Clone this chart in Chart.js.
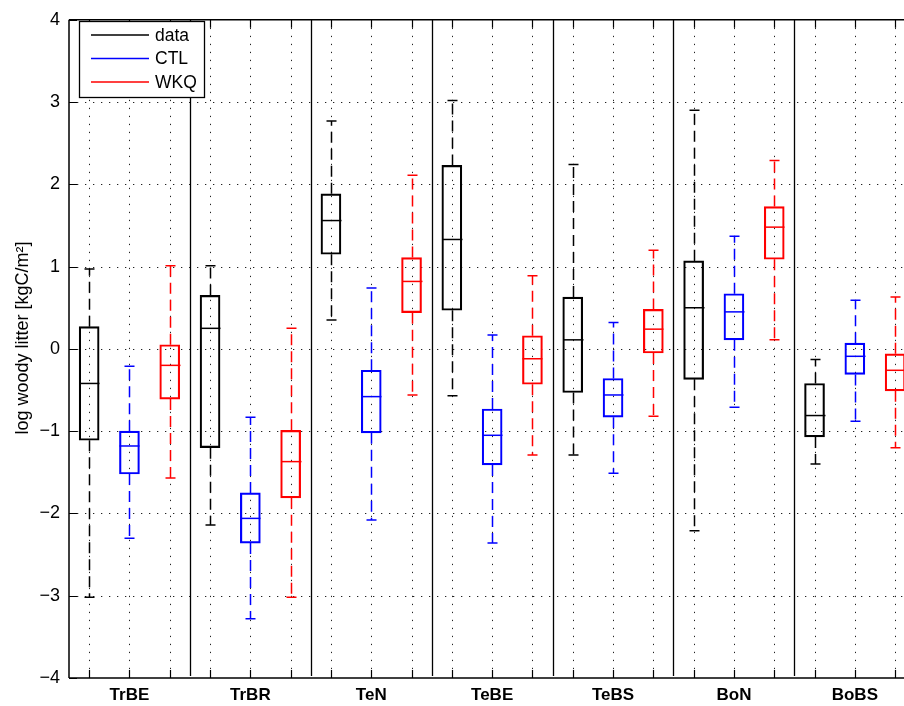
<!DOCTYPE html>
<html>
<head>
<meta charset="utf-8">
<script src="https://cdn.jsdelivr.net/npm/chart.js@4.4.1/dist/chart.umd.min.js"></script>
<style>
  html, body { margin: 0; padding: 0; background: #fff; }
  #wrap { width: 904px; height: 706px; }
</style>
</head>
<body>
<div id="wrap"><canvas id="c" width="904" height="706"></canvas></div>
<script>
// biomes (groups) and the three series in each group
const groups = ['TrBE', 'TrBR', 'TeN', 'TeBE', 'TeBS', 'BoN', 'BoBS'];
const seriesNames = ['data', 'CTL', 'WKQ'];
const seriesColors = ['#000000', '#0000ff', '#ff0000'];
const yTicks = [-4, -3, -2, -1, 0, 1, 2, 3, 4];

// box statistics (log kgC/m2)
const dataLow  = [-3.02, -2.14, 0.35, -0.57, -1.29, -2.21, -1.40];
const dataQ1   = [-1.11, -1.20, 1.15, 0.47, -0.53, -0.37, -1.07];
const dataMed  = [-0.42, 0.25, 1.56, 1.33, 0.11, 0.50, -0.81];
const dataQ3   = [0.27, 0.65, 1.885, 2.23, 0.63, 1.07, -0.42];
const dataHigh = [0.97, 1.01, 2.77, 3.02, 2.24, 2.90, -0.13];

const ctlLow  = [-2.30, -3.28, -2.08, -2.36, -1.51, -0.71, -0.88];
const ctlQ1   = [-1.52, -2.36, -1.02, -1.41, -0.83, 0.11, -0.31];
const ctlMed  = [-1.18, -2.06, -0.58, -1.05, -0.56, 0.45, -0.09];
const ctlQ3   = [-1.00, -1.75, -0.26, -0.73, -0.36, 0.67, 0.07];
const ctlHigh = [-0.21, -0.83, 0.74, 0.17, 0.32, 1.37, 0.59];

const wkqLow  = [-1.57, -3.02, -0.56, -1.29, -0.82, 0.11, -1.20];
const wkqQ1   = [-0.61, -1.81, 0.44, -0.43, -0.05, 1.09, -0.51];
const wkqMed  = [-0.20, -1.37, 0.82, -0.12, 0.24, 1.48, -0.26];
const wkqQ3   = [0.05, -0.99, 1.11, 0.16, 0.48, 1.73, -0.06];
const wkqHigh = [1.01, 0.25, 2.11, 0.89, 1.20, 2.29, 0.63];

const stats = [
  { low: dataLow, q1: dataQ1, med: dataMed, q3: dataQ3, high: dataHigh },
  { low: ctlLow, q1: ctlQ1, med: ctlMed, q3: ctlQ3, high: ctlHigh },
  { low: wkqLow, q1: wkqQ1, med: wkqMed, q3: wkqQ3, high: wkqHigh }
];

const nSeries = seriesNames.length;
const posOf = (g, s) => g * nSeries + s + 1;   // x position of a box
const xPositions = [];
for (let i = 1; i <= groups.length * nSeries; i++) xPositions.push(i);

const FONT = '"Liberation Sans", Arial, Helvetica, sans-serif';
const BOX_W = 20;     // px
const CAP_W = 10;     // px

// boxes = floating bars q1..q3
const datasets = seriesNames.map((name, s) => ({
  label: name,
  data: groups.map((g, i) => ({ x: posOf(i, s), y: [stats[s].q1[i], stats[s].q3[i]] })),
  backgroundColor: 'rgba(0,0,0,0)',
  borderColor: seriesColors[s],
  borderWidth: 1.5,
  borderSkipped: false,
  barThickness: BOX_W,
  grouped: false
}));

// grid, separators, whiskers, medians, axes frame, legend, y title
const boxPlotPlugin = {
  id: 'boxPlot',
  beforeDatasetsDraw(chart) {
    const { ctx, chartArea: a, scales: { x, y } } = chart;
    ctx.save();
    ctx.strokeStyle = '#222';
    ctx.lineWidth = 1;
    ctx.setLineDash([1.3, 6.7]);
    xPositions.forEach(v => {
      const px = Math.round(x.getPixelForValue(v)) + 0.5;
      ctx.beginPath(); ctx.moveTo(px, a.top); ctx.lineTo(px, a.bottom); ctx.stroke();
    });
    yTicks.slice(1, -1).forEach(v => {
      const py = Math.round(y.getPixelForValue(v)) + 0.5;
      ctx.beginPath(); ctx.moveTo(a.left, py); ctx.lineTo(a.right, py); ctx.stroke();
    });
    // group separators
    ctx.setLineDash([]);
    ctx.strokeStyle = '#000';
    ctx.lineWidth = 1.3;
    for (let g = 1; g < groups.length; g++) {
      const px = Math.round(x.getPixelForValue(g * nSeries + 0.5)) + 0.5;
      ctx.beginPath(); ctx.moveTo(px, a.top); ctx.lineTo(px, a.bottom - 2); ctx.stroke();
    }
    ctx.restore();
  },
  afterDatasetsDraw(chart) {
    const { ctx, chartArea: a, scales: { x, y } } = chart;
    ctx.save();
    stats.forEach((st, s) => {
      ctx.strokeStyle = seriesColors[s];
      groups.forEach((g, i) => {
        const cx = Math.round(x.getPixelForValue(posOf(i, s))) + 0.5;
        const pLow = y.getPixelForValue(st.low[i]);
        const pQ1 = y.getPixelForValue(st.q1[i]);
        const pMed = y.getPixelForValue(st.med[i]);
        const pQ3 = y.getPixelForValue(st.q3[i]);
        const pHigh = y.getPixelForValue(st.high[i]);
        // whiskers
        ctx.lineWidth = 1.5;
        ctx.setLineDash([11, 6]);
        ctx.beginPath();
        ctx.moveTo(cx, pQ3); ctx.lineTo(cx, pHigh);
        ctx.moveTo(cx, pQ1); ctx.lineTo(cx, pLow);
        ctx.stroke();
        ctx.setLineDash([]);
        // caps
        ctx.beginPath();
        ctx.moveTo(cx - CAP_W / 2, pHigh); ctx.lineTo(cx + CAP_W / 2, pHigh);
        ctx.moveTo(cx - CAP_W / 2, pLow); ctx.lineTo(cx + CAP_W / 2, pLow);
        ctx.stroke();
        // median
        ctx.beginPath();
        ctx.moveTo(cx - BOX_W / 2, pMed); ctx.lineTo(cx + BOX_W / 2, pMed);
        ctx.stroke();
      });
    });

    // axes frame and inward ticks
    ctx.strokeStyle = '#000';
    ctx.lineWidth = 1.5;
    ctx.beginPath();
    ctx.moveTo(a.left, a.top); ctx.lineTo(a.right, a.top);
    ctx.moveTo(a.left, a.top); ctx.lineTo(a.left, a.bottom);
    ctx.moveTo(a.left, a.bottom); ctx.lineTo(a.right, a.bottom);
    ctx.stroke();
    ctx.lineWidth = 1.2;
    ctx.beginPath();
    xPositions.forEach(v => {
      const px = Math.round(x.getPixelForValue(v)) + 0.5;
      ctx.moveTo(px, a.bottom); ctx.lineTo(px, a.bottom - 8);
      ctx.moveTo(px, a.top); ctx.lineTo(px, a.top + 8);
    });
    yTicks.forEach(v => {
      const py = Math.round(y.getPixelForValue(v)) + 0.5;
      ctx.moveTo(a.left, py); ctx.lineTo(a.left + 8, py);
    });
    ctx.stroke();

    // legend box
    const lx = 79, ly = 21, lw = 125, lh = 76;
    ctx.fillStyle = '#fff';
    ctx.fillRect(lx, ly, lw, lh);
    ctx.lineWidth = 1.3;
    ctx.strokeStyle = '#000';
    ctx.strokeRect(lx + 0.5, ly + 0.5, lw, lh);
    ctx.font = '17.5px ' + FONT;
    ctx.textBaseline = 'middle';
    ctx.textAlign = 'left';
    seriesNames.forEach((name, s) => {
      const yy = ly + 14 + s * 23.5;
      ctx.strokeStyle = seriesColors[s];
      ctx.lineWidth = 1.5;
      ctx.beginPath(); ctx.moveTo(lx + 12, yy); ctx.lineTo(lx + 70, yy); ctx.stroke();
      ctx.fillStyle = '#000';
      ctx.fillText(name, lx + 76, yy + 1);
    });

    // y axis title
    ctx.save();
    ctx.translate(23, 338);
    ctx.rotate(-Math.PI / 2);
    ctx.textAlign = 'center';
    ctx.textBaseline = 'middle';
    ctx.font = '18px ' + FONT;
    ctx.fillText('log woody litter [kgC/m²]', 0, 0);
    ctx.restore();
    ctx.restore();
  }
};

new Chart(document.getElementById('c').getContext('2d'), {
  type: 'bar',
  data: { datasets: datasets },
  options: {
    responsive: false,
    animation: false,
    layout: { padding: { top: 11, right: 0, left: 0, bottom: 0 } },
    plugins: { legend: { display: false }, tooltip: { enabled: false } },
    scales: {
      x: {
        type: 'linear',
        offset: false,
        min: 0.5,
        max: 21.22,
        afterBuildTicks: s => { s.ticks = xPositions.map(v => ({ value: v })); },
        afterFit: s => { s.height = 28; },
        grid: { display: false, drawTicks: false },
        border: { display: false },
        ticks: {
          autoSkip: false,
          maxRotation: 0,
          padding: 7,
          color: '#000',
          font: { family: FONT, size: 17, weight: 'bold' },
          callback: v => {
            const k = v - 2;
            return (k % nSeries === 0) ? groups[k / nSeries] : '';
          }
        }
      },
      y: {
        min: -4,
        max: 4,
        afterBuildTicks: s => { s.ticks = yTicks.map(v => ({ value: v })); },
        afterFit: s => { s.width = 69; },
        grid: { display: false, drawTicks: false },
        border: { display: false },
        ticks: {
          padding: 9,
          color: '#000',
          font: { family: FONT, size: 18 },
          callback: v => String(v).replace('-', '\u2212')
        }
      }
    }
  },
  plugins: [boxPlotPlugin]
});
</script>
</body>
</html>
